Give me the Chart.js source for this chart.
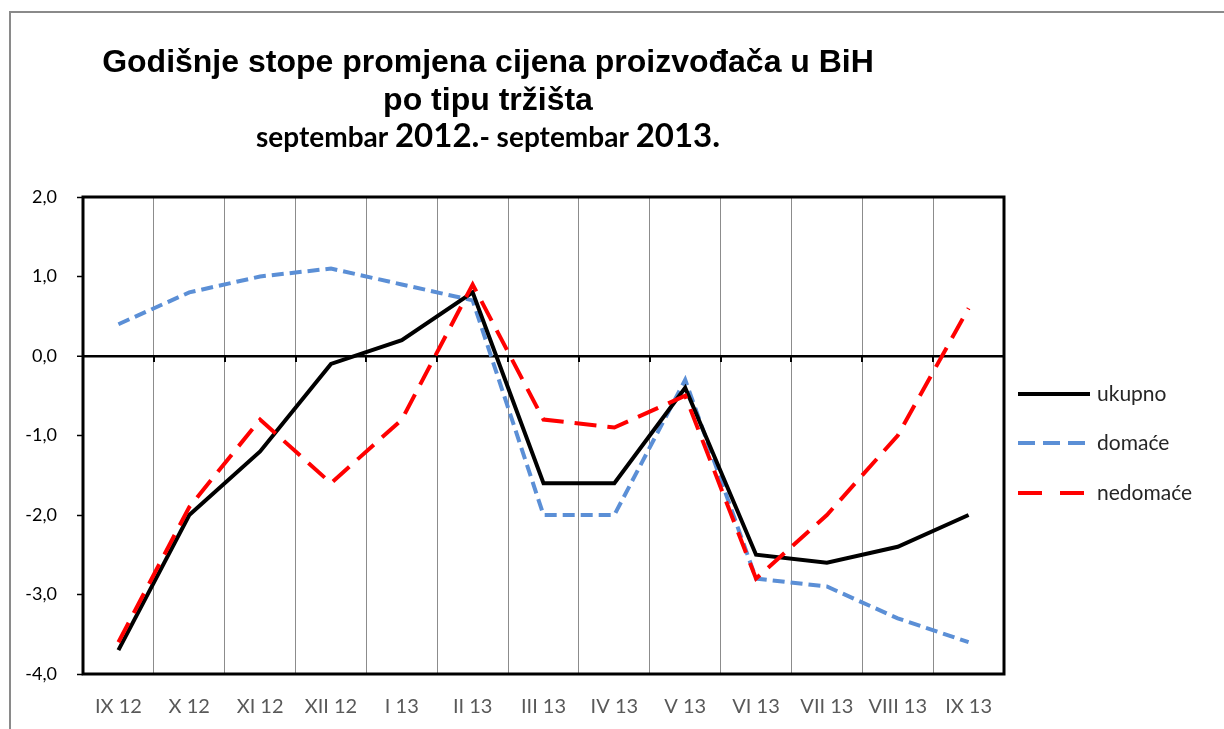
<!DOCTYPE html>
<html>
<head>
<meta charset="utf-8">
<title>Godišnje stope promjena cijena proizvođača u BiH</title>
<script src="https://cdn.jsdelivr.net/npm/chart.js@4/dist/chart.umd.min.js"></script>
<style>
  body { margin: 0; background: #fff; }
  #wrap { width: 1224px; height: 729px; }
</style>
</head>
<body>
<div id="wrap"><canvas id="chart" width="1224" height="729"></canvas></div>
<script>
const months = ['IX 12', 'X 12', 'XI 12', 'XII 12', 'I 13', 'II 13', 'III 13', 'IV 13', 'V 13', 'VI 13', 'VII 13', 'VIII 13', 'IX 13']
const ukupno = [-3.7, -2.0, -1.2, -0.1, 0.2, 0.8, -1.6, -1.6, -0.4, -2.5, -2.6, -2.4, -2.0]
const domace = [0.4, 0.8, 1.0, 1.1, 0.9, 0.7, -2.0, -2.0, -0.3, -2.8, -2.9, -3.3, -3.6]
const nedomace = [-3.6, -1.9, -0.8, -1.6, -0.8, 0.9, -0.8, -0.9, -0.5, -2.8, -2.0, -1.0, 0.6]
const yTicks = [-4, -3, -2, -1, 0, 1, 2]

const titleLine1 = 'Godišnje stope promjena cijena proizvođača u BiH'
const titleLine2 = 'po tipu tržišta'
const titleLine3 = [['septembar ', 28], ['2012.', 33], ['- septembar ', 28], ['2013.', 33]]

const decor = {
    id: 'decor',
    beforeDraw(chart) {
        const ctx = chart.ctx
        ctx.save()
        ctx.fillStyle = '#fff'
        ctx.fillRect(0, 0, chart.width, chart.height)
        // outer frame of the chart object
        ctx.strokeStyle = '#8a8a8a'
        ctx.lineWidth = 2
        ctx.beginPath()
        ctx.moveTo(10, chart.height)
        ctx.lineTo(10, 12)
        ctx.lineTo(chart.width, 12)
        ctx.stroke()

        // title
        const cx = 488
        ctx.fillStyle = '#000'
        ctx.textAlign = 'center'
        ctx.textBaseline = 'alphabetic'
        ctx.font = 'bold 32px "Liberation Sans", Arial, sans-serif'
        ctx.fillText(titleLine1, cx, 72)
        ctx.fillText(titleLine2, cx, 110)

        ctx.textAlign = 'left'
        let total = 0
        titleLine3.forEach(([t, s]) => {
            ctx.font = `bold ${s}px Lato, "Open Sans", sans-serif`
            total += ctx.measureText(t).width
        })
        let x = cx - total / 2
        titleLine3.forEach(([t, s]) => {
            ctx.font = `bold ${s}px Lato, "Open Sans", sans-serif`
            ctx.fillText(t, x, 147)
            x += ctx.measureText(t).width
        })
        ctx.restore()
    },
    afterDraw(chart) {
        const ctx = chart.ctx
        const area = chart.chartArea
        const ys = chart.scales.y
        ctx.save()
        // tick marks on the zero line
        const y0 = ys.getPixelForValue(0)
        const step = (area.right - area.left) / months.length
        ctx.strokeStyle = '#000'
        ctx.lineWidth = 2
        for (let i = 0; i <= months.length; i++) {
            const gx = Math.round(area.left + i * step)
            ctx.beginPath()
            ctx.moveTo(gx, y0)
            ctx.lineTo(gx, y0 + 6)
            ctx.stroke()
        }
        // plot border
        ctx.lineWidth = 3
        ctx.strokeRect(area.left, area.top, area.right - area.left, area.bottom - area.top)

        // legend
        const lx = 1018, lw = 72
        const rows = [394, 443, 493]
        const legendDash = [[], [17, 8], [24, 18]]
        chart.data.datasets.forEach((ds, i) => {
            const ly = rows[i]
            ctx.strokeStyle = ds.borderColor
            ctx.lineWidth = ds.borderWidth
            ctx.setLineDash(legendDash[i])
            ctx.lineCap = 'butt'
            ctx.beginPath()
            ctx.moveTo(lx, ly)
            ctx.lineTo(lx + lw, ly)
            ctx.stroke()
            ctx.setLineDash([])
            ctx.fillStyle = '#262626'
            ctx.font = '21px Lato, "Open Sans", sans-serif'
            ctx.textAlign = 'left'
            ctx.textBaseline = 'middle'
            ctx.fillText(ds.label, 1097, ly)
        })
        ctx.restore()
    }
}

new Chart(document.getElementById('chart'), {
    type: 'line',
    data: {
        labels: months,
        datasets: [
            {
                label: 'ukupno',
                data: ukupno,
                borderColor: '#000000',
                borderWidth: 4,
                order: 2
            },
            {
                label: 'domaće',
                data: domace,
                borderColor: '#5b8fd6',
                borderWidth: 4,
                borderDash: [12, 6],
                order: 3
            },
            {
                label: 'nedomaće',
                data: nedomace,
                borderColor: '#ff0000',
                borderWidth: 4,
                borderDash: [22, 11],
                order: 1
            }
        ]
    },
    options: {
        responsive: false,
        animation: false,
        events: [],
        layout: { padding: { top: 197, right: 220, left: 0, bottom: 0 } },
        elements: {
            line: { tension: 0, fill: false },
            point: { radius: 0 }
        },
        plugins: {
            legend: { display: false },
            title: { display: false },
            tooltip: { enabled: false }
        },
        scales: {
            x: {
                type: 'category',
                offset: true,
                grid: {
                    offset: true,
                    drawOnChartArea: true,
                    drawTicks: false,
                    color: '#8c8c8c',
                    lineWidth: 1
                },
                border: { display: false },
                ticks: {
                    color: '#595959',
                    font: { family: 'Lato, "Open Sans", sans-serif', size: 20 },
                    padding: 21,
                    maxRotation: 0,
                    autoSkip: false
                },
                afterFit: s => { s.height = 55 }
            },
            y: {
                min: -4,
                max: 2,
                afterBuildTicks: s => { s.ticks = yTicks.map(v => ({ value: v })) },
                grid: {
                    drawOnChartArea: true,
                    color: c => (c.tick && c.tick.value === 0 ? '#000' : 'rgba(0,0,0,0)'),
                    lineWidth: c => (c.tick && c.tick.value === 0 ? 2.5 : 1),
                    tickColor: '#000',
                    tickWidth: 1.5,
                    tickLength: 6
                },
                border: { display: false },
                ticks: {
                    color: '#000',
                    font: { family: 'Lato, "Open Sans", sans-serif', size: 18 },
                    padding: 20,
                    callback: v => v.toFixed(1).replace('.', ',')
                },
                afterFit: s => { s.width = 83 }
            }
        }
    },
    plugins: [decor]
})
</script>
</body>
</html>
